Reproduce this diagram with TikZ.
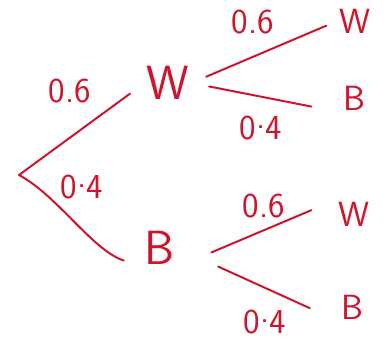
\documentclass[tikz,border=0pt]{standalone}
\usepackage{fontspec}
\usepackage{pgf,tikz}
\usetikzlibrary{arrows,calc}
\usepackage{xcolor}
\definecolor{pen}{RGB}{205,22,45}
\newcommand{\hdot}{\raisebox{0.3em}{.}}

\begin{document}
\begin{tikzpicture}[x=1pt,y=-1pt,
  branch/.style={pen,line width=2pt,line cap=round},
  big/.style={pen,font=\sffamily\fontsize{48}{48}\selectfont,inner sep=2pt},
  leaf/.style={pen,font=\sffamily\fontsize{35}{35}\selectfont,inner sep=2pt},
  prob/.style={pen,font=\sffamily\fontsize{35}{35}\selectfont,inner sep=0pt}]
\useasboundingbox (0,0) rectangle (384,354);
\coordinate (root) at (19,175);
\node[big] (w1) at (168,83) {W};
\node[big] (b1) at (160,248) {B};
\node[leaf] (ww) at (355,21) {W};
\node[leaf] (wb) at (354,98) {B};
\node[leaf] (bw) at (354,214) {W};
\node[leaf] (bb) at (352,307) {B};
% first draw
\draw[branch,shorten >=18pt] (root) -- (w1.west);
\draw[branch,shorten >=20pt] (root) .. controls (58,196) and (92,250) .. (b1.south west);
\node[prob] (p1) at (70,91) {0.6};
\node[prob] (p2) at (82,187) {0\hdot4};
% second draw after W
\draw[branch,shorten <=16pt,shorten >=12pt] (w1.east) -- (ww.west);
\draw[branch,shorten <=18pt,shorten >=30pt] (w1.east) -- (wb.south west);
\node[prob] (p3) at (253,22) {0.6};
\node[prob] (p4) at (261,128) {0\hdot4};
% second draw after B
\draw[branch,shorten <=37pt,shorten >=27pt] (b1.south east) -- (bw.north west);
\draw[branch,shorten <=45pt,shorten >=32pt] (b1.east) -- (bb.south west);
\node[prob] (p5) at (264,206) {0.6};
\node[prob] (p6) at (265,322) {0\hdot4};
\end{tikzpicture}
\end{document}
